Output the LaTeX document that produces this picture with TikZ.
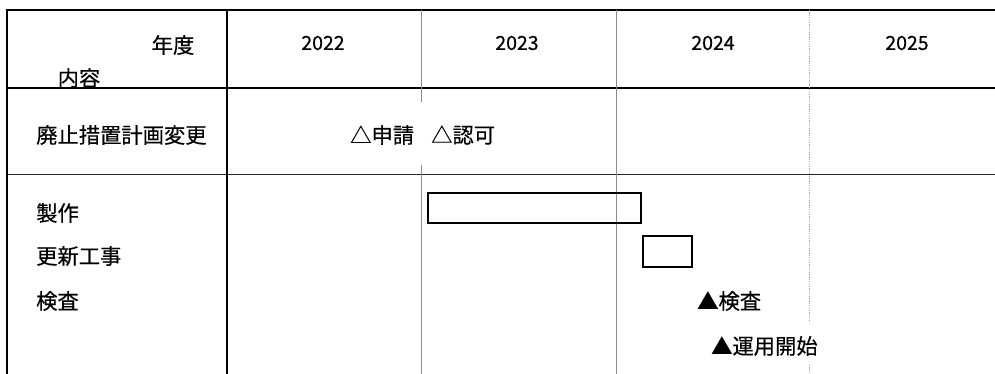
\documentclass[tikz,border=0pt]{standalone}
\usepackage{fontspec}
\setmainfont{Noto Sans CJK JP}[FakeBold=0.35]
\begin{document}
\begin{tikzpicture}[x=1pt,y=-1pt,
  txt/.style={inner sep=0pt,font=\fontsize{21.3}{21.3}\selectfont},
  yr/.style={inner sep=0pt,font=\fontsize{19.5}{19.5}\selectfont},
  lt/.style={txt,anchor=west},
  thick line/.style={draw=black,line width=2pt},
  mid line/.style={draw=black,line width=1.3pt},
  thin line/.style={draw=black!85,line width=1pt},
  gray line/.style={draw=black!45,line width=1pt},
  dot line/.style={draw=black!35,line width=0.8pt,dash pattern=on 1.2pt off 1.2pt},
  bar/.style={draw=black,line width=1.6pt}]
\useasboundingbox (0,0) rectangle (995,374);
% horizontal rules
\draw[thick line] (6,10) -- (995,10);
\draw[thick line] (6,88) -- (995,88);
\draw[thin line] (7,175) -- (995,175);
% vertical rules
\draw[thick line] (7,9) -- (7,374);
\draw[mid line] (227,10) -- (227,374);
\draw[gray line] (421,10) -- (421,102);
\draw[gray line] (421,165) -- (421,374);
\draw[gray line] (616,10) -- (616,374);
\draw[dot line] (809,10) -- (809,320);
\draw[dot line] (809,365) -- (809,374);
% header
\node[txt] (nendo) at (173,45) {年度};
\node[txt] (naiyo) at (79,78) {内容};
\node[yr] (y2022) at (323,43) {2022};
\node[yr] (y2023) at (517,43) {2023};
\node[yr] (y2024) at (713,43) {2024};
\node[yr] (y2025) at (907,43) {2025};
% row 1
\node[lt] (haishi) at (36,135) {廃止措置計画変更};
\node[lt] (shinsei) at (350,135) {△申請};
\node[lt] (ninka) at (431,135) {△認可};
% row 2
\node[lt] (seisaku) at (36,213) {製作};
\node[lt] (koshin) at (36,256) {更新工事};
\node[lt] (kensa) at (36,301) {検査};
\draw[bar] (428,193) rectangle (641,223);
\draw[bar] (643,236) rectangle (692,267);
\node[lt] (kensam) at (697,301) {▲検査};
\node[lt] (unyo) at (711,346) {▲運用開始};
\end{tikzpicture}
\end{document}
